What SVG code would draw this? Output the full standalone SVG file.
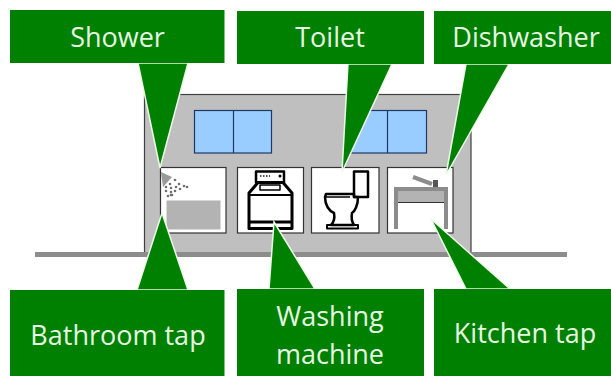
<svg xmlns="http://www.w3.org/2000/svg" width="611" height="376" viewBox="0 0 611 376">
<style>
.call{fill:#008000;stroke:#eef9ea;stroke-width:1.5;stroke-linejoin:miter}
.box{fill:#008000}
.lbl{font-family:"Open Sans","Noto Sans","Liberation Sans",sans-serif;font-size:27px;fill:#e6f8e2;text-anchor:middle}
.room{fill:#fff;stroke:#333;stroke-width:1.2}
.win{fill:#99ccff;stroke:#1f3864;stroke-width:1.2}
.ink{fill:none;stroke:#000;stroke-linejoin:round}
</style>
<rect width="611" height="376" fill="#fff"/>
<g id="house">
<rect x="144.500" y="94.500" width="326.500" height="159" fill="#bfbfbf" stroke="#404040" stroke-width="1.200"/>
<rect x="35" y="252" width="532" height="5" fill="#8c8c8c"/>
<rect class="win" x="194.500" y="110.500" width="77" height="42.500"/>
<line class="win" x1="233.500" y1="110.500" x2="233.500" y2="153"/>
<rect class="win" x="349.500" y="110.500" width="77" height="42.500"/>
<line class="win" x1="387.500" y1="110.500" x2="387.500" y2="153"/>
</g>
<g id="room-bath">
<rect class="room" x="160.500" y="167.500" width="65.500" height="65.500"/>
<rect x="166.500" y="200.500" width="54" height="29" fill="#b3b3b3"/>
<path d="M161 172L172 177L163 187Z" fill="#9a9a9a"/>
<g fill="#6e6e6e"><circle cx="170" cy="184" r="1.300"/><circle cx="175" cy="180" r="1.300"/><circle cx="179" cy="184" r="1.300"/><circle cx="184" cy="186" r="1.300"/><circle cx="187" cy="187" r="1.300"/><circle cx="166" cy="187" r="1.300"/><circle cx="171" cy="188" r="1.300"/><circle cx="176" cy="187" r="1.300"/><circle cx="180" cy="189" r="1.300"/><circle cx="166" cy="191" r="1.300"/><circle cx="171" cy="192" r="1.300"/><circle cx="175" cy="191" r="1.300"/><circle cx="168" cy="196" r="1.300"/><circle cx="172" cy="195" r="1.300"/><circle cx="171" cy="195" r="1.300"/></g>
</g>
<g id="room-washer">
<rect class="room" x="237.500" y="167.500" width="66" height="65.500"/>
<rect class="ink" x="256" y="171.500" width="28" height="11" stroke-width="2.500"/>
<path class="ink" d="M258 182.500L249 193V228.500H292V193L283 182.500Z" stroke-width="3"/>
<line class="ink" x1="249" y1="195" x2="292" y2="195" stroke-width="2"/>
<line class="ink" x1="249" y1="222" x2="292" y2="222" stroke-width="3"/>
<rect class="ink" x="260" y="185" width="20" height="5" stroke-width="1.500"/>
<circle cx="280" cy="176" r="1.500"/>
<line x1="260" y1="176" x2="270" y2="176" stroke="#555" stroke-width="2" stroke-dasharray="1.500 1.500"/>
</g>
<g id="room-toilet">
<rect class="room" x="311.500" y="167.500" width="67.500" height="65.500"/>
<path class="ink" d="M354 171.500H368V197H354Z" stroke-width="2.500"/>
<path class="ink" d="M326 194H354V197H358C358 205 355 211 352 213C351 218 352 222 354 225H331C334 222 335 218 334 213C329 211 325 205 325 197Z" stroke-width="2.500"/>
<line class="ink" x1="326" y1="197" x2="350" y2="197" stroke-width="1.500"/>
<rect class="ink" x="327" y="225" width="31" height="3.500" stroke-width="2"/>
</g>
<g id="room-kitchen">
<rect class="room" x="387.500" y="167.500" width="65.500" height="65.500"/>
<rect x="397" y="187" width="50" height="15" fill="#b3b3b3"/>
<path d="M396 229V189H446V229" fill="none" stroke="#8c8c8c" stroke-width="4"/>
<line x1="398" y1="202.500" x2="444" y2="202.500" stroke="#333" stroke-width="1"/>
<path d="M413 177L432 184" stroke="#8c8c8c" stroke-width="4" fill="none"/>
<rect x="433" y="180" width="5" height="7" fill="#555"/>
</g>
<g id="connectors">
<path class="call" d="M138 63L160 168L188 63Z"/>
<path class="call" d="M348 64L342 172L392 64Z"/>
<path class="call" d="M466 64L446 175L509 64Z"/>
<path class="call" d="M137 290L162 213L188 290Z"/>
<path class="call" d="M269 289L274 222L315 289Z"/>
<path class="call" d="M466 289L431 219L510 289Z"/>
</g>
<g id="shower"><rect class="box" x="10" y="10" width="214.500" height="53"/><text class="lbl" x="117.500" y="47">Shower</text></g>
<g id="toilet"><rect class="box" x="237" y="11" width="187" height="53"/><text class="lbl" x="330" y="47">Toilet</text></g>
<g id="dishwasher"><rect class="box" x="434" y="11" width="177" height="53"/><text class="lbl" x="526" y="47">Dishwasher</text></g>
<g id="bathroom-tap"><rect class="box" x="10" y="290" width="214.500" height="86"/><text class="lbl" x="118" y="345">Bathroom tap</text></g>
<g id="washing-machine"><rect class="box" x="237" y="289" width="187" height="87"/><text class="lbl" x="330" y="326">Washing</text><text class="lbl" x="330" y="364">machine</text></g>
<g id="kitchen-tap"><rect class="box" x="434" y="289" width="177" height="87"/><text class="lbl" x="525" y="343">Kitchen tap</text></g>
</svg>
